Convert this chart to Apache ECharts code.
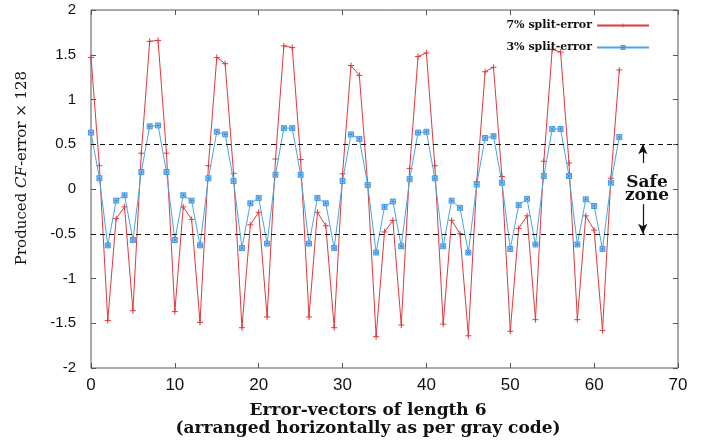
<!DOCTYPE html>
<html><head><meta charset="utf-8">
<script src="https://cdn.jsdelivr.net/npm/echarts@6/dist/echarts.min.js"></script>
<style>html,body{margin:0;padding:0;background:#fff}#c{width:716px;height:445px}</style>
</head><body><div id="c"></div>
<script>
const vectorIndex = [0,1,2,3,4,5,6,7,8,9,10,11,12,13,14,15,16,17,18,19,20,21,22,23,24,25,26,27,28,29,30,31,32,33,34,35,36,37,38,39,40,41,42,43,44,45,46,47,48,49,50,51,52,53,54,55,56,57,58,59,60,61,62,63];
const err7 = [1.47,0.26,-1.47,-0.33,-0.20,-1.36,0.40,1.65,1.66,0.40,-1.37,-0.20,-0.34,-1.49,0.26,1.47,1.40,0.175,-1.55,-0.40,-0.26,-1.43,0.335,1.60,1.58,0.33,-1.43,-0.26,-0.41,-1.55,0.17,1.38,1.27,0.05,-1.65,-0.48,-0.35,-1.52,0.23,1.48,1.52,0.26,-1.51,-0.35,-0.50,-1.64,0.08,1.31,1.36,0.14,-1.59,-0.44,-0.30,-1.46,0.31,1.56,1.53,0.29,-1.46,-0.30,-0.46,-1.58,0.12,1.33];
const err3 = [0.63,0.12,-0.63,-0.13,-0.07,-0.57,0.19,0.70,0.71,0.19,-0.57,-0.07,-0.13,-0.63,0.12,0.64,0.61,0.09,-0.66,-0.16,-0.10,-0.61,0.16,0.68,0.68,0.16,-0.61,-0.10,-0.16,-0.66,0.09,0.61,0.56,0.045,-0.71,-0.20,-0.14,-0.64,0.11,0.63,0.64,0.12,-0.64,-0.13,-0.21,-0.71,0.05,0.57,0.59,0.07,-0.67,-0.18,-0.11,-0.62,0.145,0.67,0.67,0.145,-0.62,-0.115,-0.19,-0.67,0.07,0.58];
const seriesNames = ['7% split-error', '3% split-error'];
const xRange = [0, 70, 10];
const yRange = [-2, 2, 0.5];
const safeBounds = [0.5, -0.5];
const safeArrowX = 65.8;
const safeArrowInner = [0.29, -0.17];

const chart = echarts.init(document.getElementById('c'), null, {renderer: 'canvas'});
const plusPath = 'path://M0,5L10,5M5,0L5,10';
const starBoxPath = 'path://M0,0L10,0L10,10L0,10Z M0,0L10,10 M10,0L0,10 M5,0L5,10 M0,5L10,5';
const red = '#e0393e', blueLine = '#4aa6e2', blueMark = '#2a8ae0';
const frame = '#555';
function xAx(pos, labels) {
  return {type: 'value', position: pos, min: xRange[0], max: xRange[1], interval: xRange[2],
    axisLine: {show: false, onZero: false}, splitLine: {show: false},
    axisTick: {show: true, inside: true, length: 5, lineStyle: {color: frame}},
    axisLabel: {show: labels, margin: 9, color: '#111', fontFamily: 'Liberation Sans', fontSize: 17}};
}
function yAx(pos, labels) {
  return {type: 'value', position: pos, min: yRange[0], max: yRange[1], interval: yRange[2],
    axisLine: {show: false, onZero: false}, splitLine: {show: false},
    axisTick: {show: true, inside: true, length: 5, lineStyle: {color: frame}},
    axisLabel: {show: labels, margin: 15, color: '#111', fontFamily: 'Liberation Sans', fontSize: 15}};
}
chart.setOption({
  animation: false,
  backgroundColor: '#fff',
  grid: {left: 91, right: 38, top: 10, bottom: 77, show: true, borderColor: frame, borderWidth: 1, backgroundColor: 'transparent'},
  xAxis: [xAx('bottom', true), xAx('top', false)],
  yAxis: [yAx('left', true), yAx('right', false)],
  legend: {
    right: 61, top: 15, orient: 'vertical', align: 'right', itemWidth: 52, itemHeight: 5, itemGap: 11,
    itemStyle: {borderWidth: 0.8},
    textStyle: {fontFamily: 'DejaVu Serif', fontWeight: 'bold', fontSize: 11, color: '#111'},
    data: seriesNames
  },
  graphic: [
    {type: 'text', x: 22, y: 168, rotation: Math.PI / 2,
      style: {text: '{n|Produced }{i|CF}{n|-error × 128}', align: 'center', verticalAlign: 'middle',
        rich: {n: {fontFamily: 'DejaVu Serif', fontSize: 15, fill: '#111'},
               i: {fontFamily: 'DejaVu Serif', fontStyle: 'italic', fontSize: 15, fill: '#111'}}}},
    {type: 'text', x: 368, y: 411, style: {text: 'Error-vectors of length 6', align: 'center', verticalAlign: 'middle',
      fontFamily: 'DejaVu Serif', fontWeight: 'bold', fontSize: 17, fill: '#111'}},
    {type: 'text', x: 368, y: 429, style: {text: '(arranged horizontally as per gray code)', align: 'center', verticalAlign: 'middle',
      fontFamily: 'DejaVu Serif', fontWeight: 'bold', fontSize: 17, fill: '#111'}},
    {type: 'text', x: 647, y: 183, style: {text: 'Safe', align: 'center', verticalAlign: 'middle',
      fontFamily: 'DejaVu Serif', fontWeight: 'bold', fontSize: 17, fill: '#111'}},
    {type: 'text', x: 647, y: 196, style: {text: 'zone', align: 'center', verticalAlign: 'middle',
      fontFamily: 'DejaVu Serif', fontWeight: 'bold', fontSize: 17, fill: '#111'}}
  ],
  series: [
    {name: seriesNames[0], type: 'line', data: vectorIndex.map((x, i) => [x, err7[i]]),
      symbol: plusPath, symbolSize: 6, showSymbol: true,
      lineStyle: {color: red, width: 1}, itemStyle: {color: red, borderColor: red, borderWidth: 1},
      z: 2,
      markLine: {silent: true, symbol: ['none', 'none'], label: {show: false},
        data: [
          {yAxis: safeBounds[0], lineStyle: {color: '#111', type: [5, 4], width: 1.2}},
          {yAxis: safeBounds[1], lineStyle: {color: '#111', type: [5, 4], width: 1.2}},
          [{coord: [safeArrowX, safeBounds[0]], symbol: 'arrow', symbolSize: [7, 10], lineStyle: {color: '#111', type: 'solid', width: 1.2}},
           {coord: [safeArrowX, safeArrowInner[0]], symbol: 'none'}],
          [{coord: [safeArrowX, safeArrowInner[1]], symbol: 'none', lineStyle: {color: '#111', type: 'solid', width: 1.2}},
           {coord: [safeArrowX, safeBounds[1]], symbol: 'arrow', symbolSize: [7, 10]}]
        ]}},
    {name: seriesNames[1], type: 'line', data: vectorIndex.map((x, i) => [x, err3[i]]),
      symbol: starBoxPath, symbolSize: 5, showSymbol: true,
      lineStyle: {color: blueLine, width: 1}, itemStyle: {color: '#cfe8fa', borderColor: blueMark, borderWidth: 0.8},
      z: 3}
  ]
});
</script></body></html>
